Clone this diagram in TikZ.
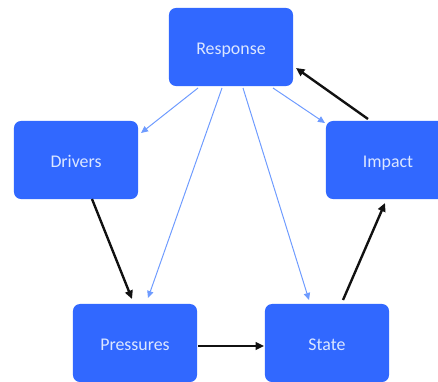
\documentclass[tikz,border=0pt]{standalone}
\usepackage{fontspec}
\setmainfont{Carlito}
\usepackage{tikz}
\usetikzlibrary{arrows.meta,calc}
\definecolor{boxblue}{HTML}{3168FF}
\definecolor{txtblue}{HTML}{DCE7FF}
\definecolor{linkblue}{HTML}{6E9BFF}
\definecolor{ink}{HTML}{111111}
\tikzset{
  dpsir/.style={rectangle, rounded corners=5pt, fill=boxblue, draw=none,
                minimum width=3.1cm, minimum height=1.95cm, align=center,
                text height=11pt, text depth=0pt,
                text=txtblue, font=\fontsize{12.7}{15}\selectfont},
  respond/.style={-{Triangle[length=5pt,width=4.5pt]}, draw=linkblue, line width=0.7pt},
  cause/.style={-{Triangle[length=6pt,width=5.5pt]}, draw=ink, line width=1.7pt}
}
\begin{document}
\begin{tikzpicture}[x=0.025cm, y=-0.025cm]
 \useasboundingbox (0,0) rectangle (438,381);
 \clip (0,0) rectangle (438,381);
 \node[dpsir] (resp) at (231,47) {Response};
 \node[dpsir] (drv) at (76,160) {Drivers};
 \node[dpsir] (imp) at (388,160) {Impact};
 \node[dpsir] (pres) at (135,343) {Pressures};
 \node[dpsir] (state) at (327,343) {State};
 % response feeds back on everything
 \draw[respond] ($(resp)+(-33,41)$) -- ($(drv)+(65,-27)$);
 \draw[respond] ($(resp)+(-9,41)$) -- ($(pres)+(13,-45)$);
 \draw[respond] ($(resp)+(12,41)$) -- ($(state)+(-18,-43)$);
 \draw[respond] ($(resp)+(42,41)$) -- ($(imp)+(-63,-37)$);
 % causal chain
 \draw[cause] ($(drv)+(16,39)$) -- ($(pres)+(-3,-44)$);
 \draw[cause] ($(pres)+(63,3)$) -- ($(state)+(-63,3)$);
 \draw[cause] ($(state)+(16,-43)$) -- ($(imp)+(-3,43)$);
 \draw[cause] ($(imp)+(-20,-41)$) -- ($(resp)+(65,21)$);
\end{tikzpicture}
\end{document}
